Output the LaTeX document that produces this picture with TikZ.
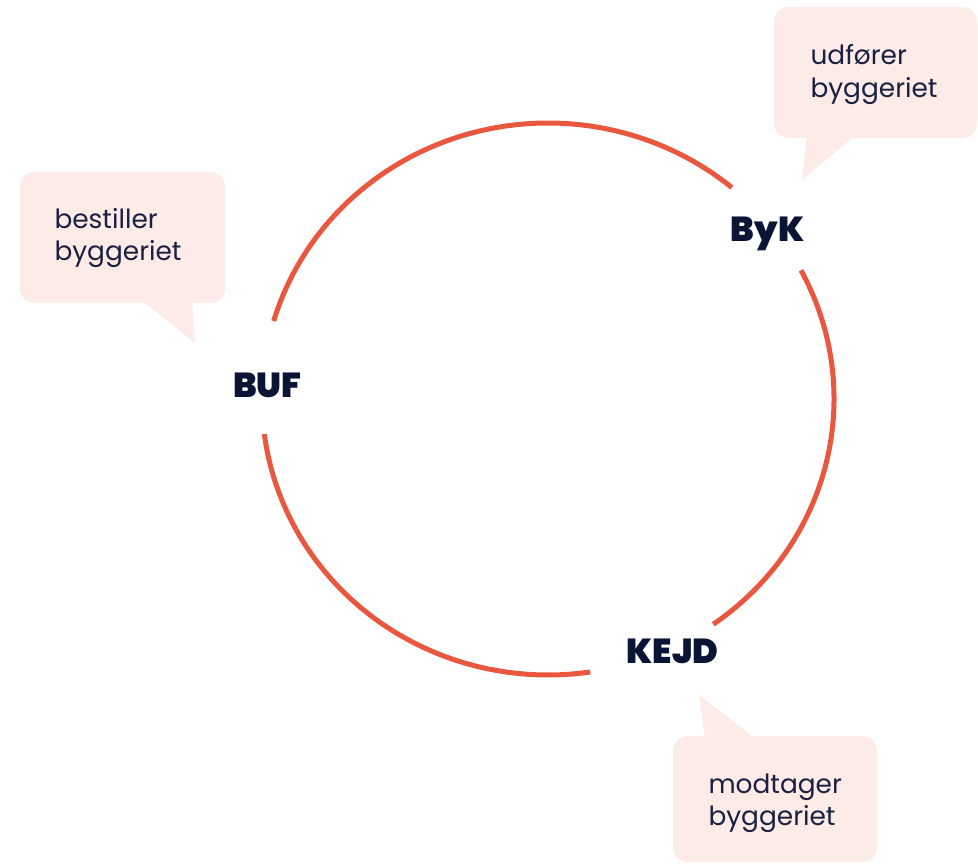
\documentclass[tikz,border=0pt]{standalone}
\usepackage{fontspec}
\setmainfont{Poppins}
\newfontfamily\labelfont{Poppins Black}
\usetikzlibrary{positioning,calc}

\definecolor{ringred}{RGB}{233,87,62}
\definecolor{bubblepink}{RGB}{252,235,230}
\definecolor{inkblue}{RGB}{10,20,52}
\definecolor{textblue}{RGB}{26,32,66}

\tikzset{every picture/.style={line width=0.75pt}}
\tikzset{
  ring/.style={draw=ringred, line width=3.75pt},
  bubble/.style={fill=bubblepink, rounded corners=11pt},
  bubbletext/.style={text=textblue, inner sep=0pt, anchor=base west, font=\fontsize{19.8}{24}\selectfont},
  unitlabel/.style={text=inkblue, inner sep=0pt, anchor=base, font=\labelfont\fontsize{26}{30}\selectfont},
}

\begin{document}
\begin{tikzpicture}[x=0.75pt,y=0.75pt,yscale=-1,xscale=1]
	\useasboundingbox (0,0) rectangle (978,864);
	\coordinate (centre) at (548,399);

	%Shape: Arc [id:top] 
	\draw [ring] (centre) ++(-50:286 and 276) arc [start angle=-50, end angle=-163.6, x radius=286, y radius=276];
	%Shape: Arc [id:left bottom] 
	\draw [ring] (centre) ++(-187.3:286 and 276) arc [start angle=-187.3, end angle=-278.5, x radius=286, y radius=276];
	%Shape: Arc [id:right] 
	\draw [ring] (centre) ++(54.7:286 and 276) arc [start angle=54.7, end angle=-27.8, x radius=286, y radius=276];

	%Shape: Bubble [id:byk] 
	\coordinate (byktip) at (802,180);
	\fill [bubble] (774,7) rectangle (977,138);
	\fill [bubblepink] (807,134) -- (byktip) -- (857,134) -- cycle;
	%Shape: Bubble [id:buf] 
	\coordinate (buftip) at (195,343);
	\fill [bubble] (20,172) rectangle (225,303);
	\fill [bubblepink] (140,299) -- (buftip) -- (192,299) -- cycle;
	%Shape: Bubble [id:kejd] 
	\coordinate (kejdtip) at (699,695);
	\fill [bubble] (673,736) rectangle (877,862);
	\fill [bubblepink] (705,740) -- (kejdtip) -- (757,740) -- cycle;

	% Text Node
	\node [bubbletext] (bykline1) at (810,64) {udfører};
	\node [bubbletext] (bykline2) at (810,97) {byggeriet};
	% Text Node
	\node [bubbletext] (bufline1) at (54,228) {bestiller};
	\node [bubbletext] (bufline2) at (54,260) {byggeriet};
	% Text Node
	\node [bubbletext] (kejdline1) at (708,793) {modtager};
	\node [bubbletext] (kejdline2) at (708,825) {byggeriet};

	% Text Node
	\node [unitlabel] (byk) at (767.5,241) {ByK};
	% Text Node
	\node [unitlabel] (buf) at (267.5,397) {BUF};
	% Text Node
	\node [unitlabel] (kejd) at (672.5,663) {KEJD};

\end{tikzpicture}
\end{document}
